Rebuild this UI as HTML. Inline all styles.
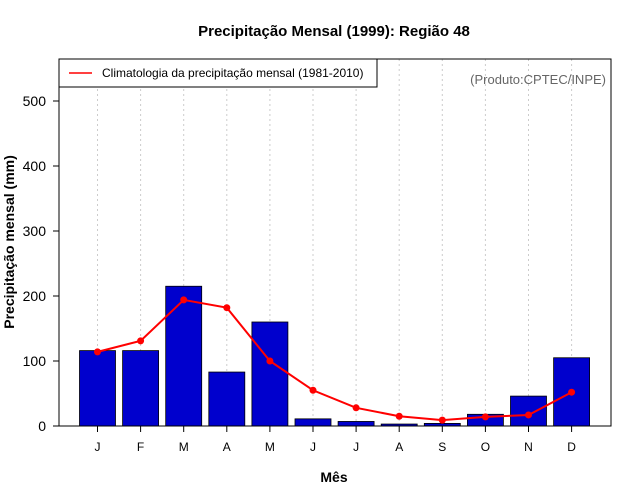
<!DOCTYPE html>
<html><head><meta charset="utf-8"><style>
body{margin:0;background:#fff;}
svg{display:block;font-family:"Liberation Sans",sans-serif;}
</style></head><body>
<svg id="c" width="640" height="500">
<text x="334" y="36" text-anchor="middle" font-size="15" font-weight="bold">Precipitação Mensal (1999): Região 48</text>
<text x="334" y="482" text-anchor="middle" font-size="14" font-weight="bold">Mês</text>
<text transform="translate(14,242) rotate(-90)" text-anchor="middle" font-size="14" font-weight="bold">Precipitação mensal (mm)</text>
<g id="grid"></g><g id="bars"></g><g id="line"></g><g id="axes"></g>
<rect x="59" y="59" width="552" height="367" fill="none" stroke="#000" stroke-width="1"/>
<g>
<rect x="59" y="59" width="318" height="28" fill="#fff" stroke="#000"/>
<line x1="69" y1="73" x2="92" y2="73" stroke="red" stroke-width="1.5"/>
<text x="102" y="77" font-size="12">Climatologia da precipitação mensal (1981-2010)</text>
</g>
<text x="606" y="84" text-anchor="end" font-size="13" fill="#666">(Produto:CPTEC/INPE)</text>
</svg>
<script>
const months=["J","F","M","A","M","J","J","A","S","O","N","D"];
const observed=[116,116,215,83,160,11,7,3,4,18,46,105];
const climatology=[114,131,194,182,100,55,28,15,9,14,17,52];
const yTicks=[0,100,200,300,400,500];
const NS="http://www.w3.org/2000/svg";
function X(i){return 97.5+i*43.1;}
function Y(v){return 426-v*0.65;}
function mk(t,a,p){const e=document.createElementNS(NS,t);for(const k in a)e.setAttribute(k,a[k]);p.appendChild(e);return e;}
const g=document.getElementById('grid'),b=document.getElementById('bars'),l=document.getElementById('line'),ax=document.getElementById('axes');
months.forEach((m,i)=>{
 const gl=mk('line',{x1:X(i),x2:X(i),y1:59,y2:426,stroke:'#ccc','stroke-dasharray':'2,3'},g);
 
 
 const r=mk('rect',{x:X(i)-18,y:Y(observed[i]),width:36,height:426-Y(observed[i]),fill:'#0000cd',stroke:'#000','stroke-width':0.8},b);
 
 
 const tk=mk('line',{x1:X(i),x2:X(i),y1:426,y2:432,stroke:'#000'},ax);
 
 
 const t=mk('text',{x:X(i),y:451,'text-anchor':'middle','font-size':12},ax);t.textContent=m;
 
 
});
const pl=mk('polyline',{points:climatology.map((v,i)=>X(i)+','+Y(v)).join(' '),fill:'none',stroke:'red','stroke-width':2},l);


climatology.forEach((v,i)=>{const c=mk('circle',{cx:X(i),cy:Y(v),r:3.5,fill:'red'},l);
 
 });
yTicks.forEach(v=>{
 const tk=mk('line',{x1:53,x2:59,y1:Y(v),y2:Y(v),stroke:'#000'},ax);
 
 
 const t=mk('text',{x:46,y:Y(v)+5,'text-anchor':'end','font-size':14},ax);t.textContent=v;
 
 
});
</script>
</body></html>
